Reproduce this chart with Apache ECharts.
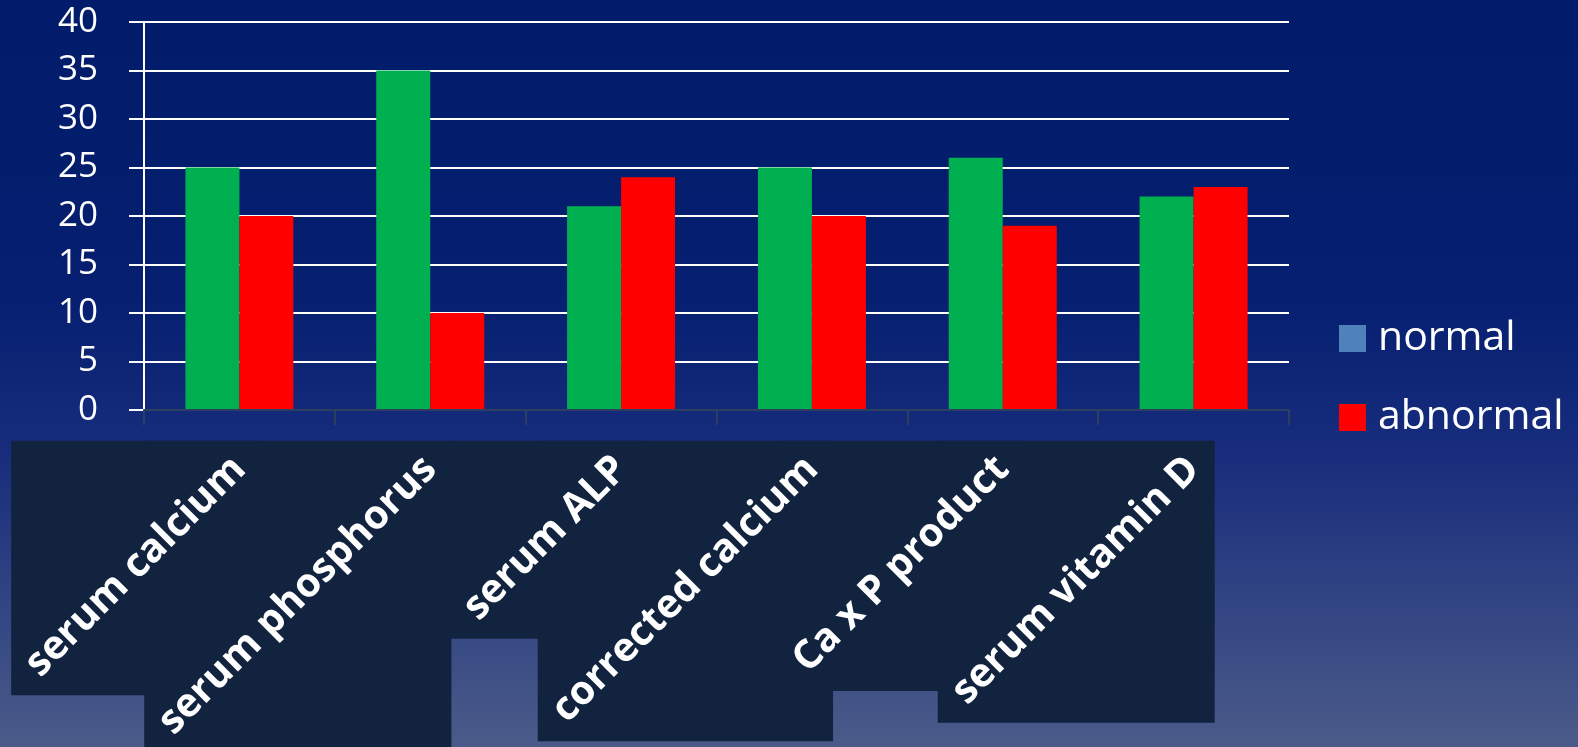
<!DOCTYPE html>
<html>
<head>
<meta charset="utf-8">
<script src="https://cdn.jsdelivr.net/npm/echarts@6/dist/echarts.min.js"></script>
<style>
  html, body { margin: 0; padding: 0; }
  #chart { width: 1578px; height: 747px; }
</style>
</head>
<body>
<div id="chart"></div>
<script>
  const categories = ['serum calcium', 'serum phosphorus', 'serum ALP', 'corrected calcium', 'Ca x P product', 'serum vitamin D'];
  const normalValues = [25, 35, 21, 25, 26, 22];
  const abnormalValues = [20, 10, 24, 20, 19, 23];
  const yTicks = { min: 0, max: 40, interval: 5 };

  const labelFont = 40;
  const labelFamily = '"Open Sans", sans-serif';
  const labelMargin = 53;

  const myChart = echarts.init(document.getElementById('chart'));

  const option = {
    backgroundColor: {
      type: 'linear', x: 0, y: 0, x2: 0, y2: 1,
      colorStops: [
        { offset: 0, color: '#011c6b' },
        { offset: 0.4, color: '#061f70' },
        { offset: 0.6, color: '#172c7c' },
        { offset: 1, color: '#4b5b89' }
      ]
    },
    grid: { left: 144, right: 289, top: 22, bottom: 337 },
    legend: {
      orient: 'vertical',
      left: 1334,
      top: 313,
      itemWidth: 27,
      itemHeight: 27,
      itemGap: 38,
      icon: 'rect',
      textStyle: { color: '#fff', fontSize: 41, fontFamily: labelFamily, lineHeight: 40, padding: [0, 0, 0, 7] },
      data: [
        { name: 'normal', itemStyle: { color: '#4f81bd' } },
        { name: 'abnormal', itemStyle: { color: '#ff0000' } }
      ]
    },
    xAxis: {
      type: 'category',
      data: categories,
      z: 5,
      axisLine: { lineStyle: { color: '#2c3f60', width: 2 } },
      axisTick: { show: true, length: 15, lineStyle: { color: '#2c3f60', width: 2 } },
      axisLabel: {
        rotate: 45,
        interval: 0,
        margin: labelMargin,
        color: '#fff',
        fontSize: labelFont,
        fontWeight: 'bold',
        fontFamily: labelFamily
      }
    },
    yAxis: {
      type: 'value',
      min: yTicks.min,
      max: yTicks.max,
      interval: yTicks.interval,
      axisLine: { show: true, lineStyle: { color: '#fff', width: 2 } },
      axisTick: { show: true, length: 15, lineStyle: { color: '#fff', width: 2 } },
      axisLabel: { color: '#fff', fontSize: 35, fontFamily: labelFamily, margin: 46 },
      splitLine: { lineStyle: { color: '#fff', width: 2 } }
    },
    series: [
      { name: 'normal', type: 'bar', data: normalValues, barWidth: 54, barGap: '0%', itemStyle: { color: '#00b050' } },
      { name: 'abnormal', type: 'bar', data: abnormalValues, barWidth: 54, itemStyle: { color: '#ff0000' } }
    ]
  };

  myChart.setOption(option);

  // dark boxes behind each rotated category label (axis-aligned bounds of the text)
  function labelBoxes() {
    const ctx = document.createElement('canvas').getContext('2d');
    ctx.font = 'bold ' + labelFont + 'px ' + labelFamily;
    const h = 40, pad = 7, padBottom = 11, k = Math.SQRT1_2;
    const ay = myChart.convertToPixel({ yAxisIndex: 0 }, 0) + labelMargin;
    return categories.map(function (name, i) {
      const cx = myChart.convertToPixel({ xAxisIndex: 0 }, i);
      const w = ctx.measureText(name).width;
      const x0 = cx - k * w - k * h / 2 - pad;
      const x1 = cx + k * h / 2 + pad;
      const y0 = ay - k * h / 2 - pad - 1;
      const y1 = ay + k * w + k * h / 2 + padBottom;
      return {
        type: 'rect', z: 1, silent: true,
        shape: { x: x0, y: y0, width: x1 - x0, height: y1 - y0 },
        style: { fill: '#12233f' }
      };
    });
  }

  myChart.setOption({ graphic: labelBoxes() });
</script>
</body>
</html>
